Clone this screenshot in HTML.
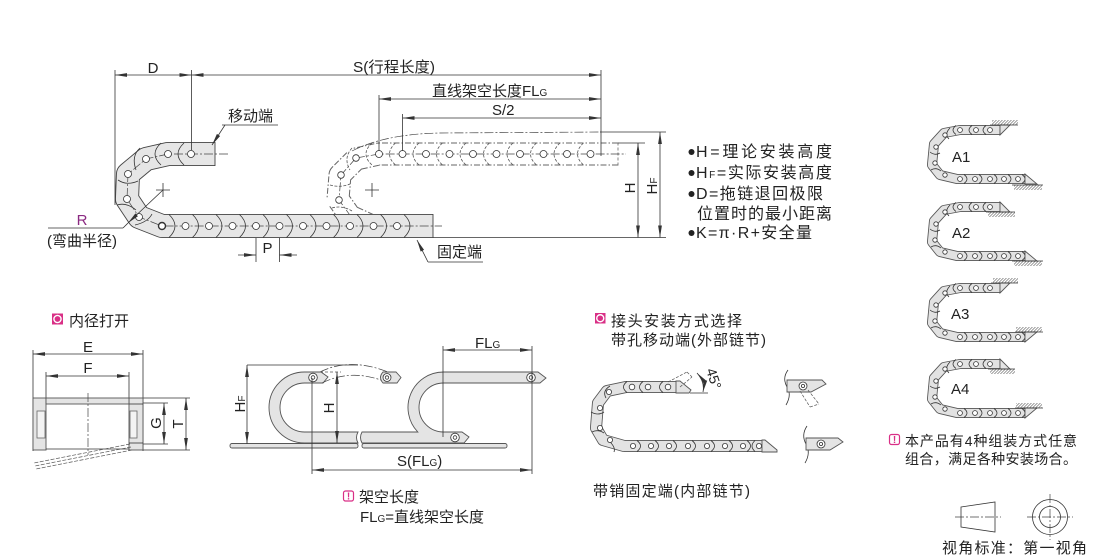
<!DOCTYPE html>
<html><head><meta charset="utf-8"><style>
html,body{margin:0;padding:0;background:#fff}
svg{display:block}
text{font-family:"Liberation Sans","Noto Sans CJK SC",sans-serif;fill:#222;font-size:15px}
.l{stroke:#333;stroke-width:.8;fill:none}
.cd{stroke:#444;stroke-width:.7;fill:none;stroke-dasharray:9 2 2 2}
.pin{fill:#fff;stroke:#333;stroke-width:.8}
.ar{stroke:#333;stroke-width:.8;fill:none;marker-end:url(#ar)}
.ar2{stroke:#333;stroke-width:.8;fill:none;marker-end:url(#ar);marker-start:url(#ar)}
.gl{fill:#e4e4e4;stroke:#555;stroke-width:.9}
</style></head><body>
<svg width="1110" height="559" viewBox="0 0 1110 559" xmlns="http://www.w3.org/2000/svg">
<defs>
<marker id="ar" viewBox="0 0 12 5" refX="12" refY="2.5" markerWidth="12" markerHeight="5" markerUnits="userSpaceOnUse" orient="auto-start-reverse"><path d="M0,0.6 L12,2.5 L0,4.4 Z" fill="#333"/></marker>
<pattern id="ht" width="3" height="10" patternUnits="userSpaceOnUse" patternTransform="skewX(-45)"><rect width="0.8" height="10" fill="#555"/></pattern>
<g id="cc">
<path d="M1000,130 L960,130 L944,133 L934,144 L932,165 L940,175 L957,179 L1025,179" fill="none" stroke="#555" stroke-width="10" stroke-linejoin="round"/>
<path d="M1000,130 L960,130 L944,133 L934,144 L932,165 L940,175 L957,179 L1025,179" fill="none" stroke="#e2e2e2" stroke-width="8.3" stroke-linejoin="round"/>
<line x1="1000" y1="125" x2="1000" y2="135" class="l"/>
<line x1="1025" y1="174" x2="1025" y2="184" class="l"/>
<g class="l">
<path d="M956,125.5 Q950,130 956,134.5"/><path d="M972,125.5 Q966,130 972,134.5"/><path d="M986,125.5 Q980,130 986,134.5"/>
<path d="M964,174.5 Q970,179 964,183.5"/><path d="M979,174.5 Q985,179 979,183.5"/><path d="M994,174.5 Q1000,179 994,183.5"/><path d="M1008,174.5 Q1014,179 1008,183.5"/><path d="M1022,174.5 Q1028,179 1022,183.5"/>
<path d="M950,128 Q944,134 949,139"/><path d="M930,152 Q935,156 940,153"/><path d="M931,170 Q936,167 941,171"/>
</g>
<g class="pin">
<circle cx="960" cy="130" r="2.4"/><circle cx="976" cy="130" r="2.4"/><circle cx="990" cy="130" r="2.4"/>
<circle cx="960" cy="179" r="2.4"/><circle cx="975" cy="179" r="2.4"/><circle cx="990" cy="179" r="2.4"/><circle cx="1004" cy="179" r="2.4"/><circle cx="1018" cy="179" r="2.4"/>
<circle cx="945" cy="135" r="2.2"/><circle cx="936" cy="147" r="2.2"/><circle cx="935" cy="163" r="2.2"/><circle cx="945" cy="175" r="2.2"/>
</g>
</g>
</defs>
<rect width="1110" height="559" fill="#fff"/>

<!-- ============ TOP MAIN DIAGRAM ============ -->
<!-- ghost chain -->
<path d="M618,154 L379,154 L356,159 L340,175 L338,199 L350,216 L372,226" fill="none" stroke="#666" stroke-width="23" stroke-dasharray="6 2 1.5 2" stroke-linejoin="round"/>
<path d="M618,154 L379,154 L356,159 L340,175 L338,199 L350,216 L372,226" fill="none" stroke="#fff" stroke-width="21" stroke-linejoin="round"/>
<line x1="618" y1="142.5" x2="618" y2="165.5" stroke="#666" stroke-width=".8" stroke-dasharray="3 2"/>
<g stroke="#555" stroke-width=".8" fill="none" stroke-dasharray="3 1.5">
<path d="M372,143 Q360,154 372,165"/><path d="M395.5,143 Q383.5,154 395.5,165"/><path d="M419,143 Q407,154 419,165"/><path d="M442.5,143 Q430.5,154 442.5,165"/><path d="M466,143 Q454,154 466,165"/><path d="M489.5,143 Q477.5,154 489.5,165"/><path d="M513,143 Q501,154 513,165"/><path d="M536.5,143 Q524.5,154 536.5,165"/><path d="M560,143 Q548,154 560,165"/><path d="M583.5,143 Q571.5,154 583.5,165"/>
<path d="M352,148 Q343,158 350,170"/><path d="M330,185 Q340,188 350,184"/><path d="M332,208 Q342,205 352,211"/>
</g>
<path class="cd" d="M356,158 L379,154 L626,154"/>
<path class="cd" d="M356,158 L341,175 L339,200 L352,218"/>
<g class="pin">
<circle cx="379" cy="154" r="3.5"/><circle cx="402.5" cy="154" r="3.5"/><circle cx="426" cy="154" r="3.5"/><circle cx="449.5" cy="154" r="3.5"/><circle cx="473" cy="154" r="3.5"/><circle cx="496.5" cy="154" r="3.5"/><circle cx="520" cy="154" r="3.5"/><circle cx="543.5" cy="154" r="3.5"/><circle cx="567" cy="154" r="3.5"/><circle cx="590.5" cy="154" r="3.5"/>
<circle cx="356" cy="158" r="3.3"/><circle cx="341" cy="175" r="3.3"/><circle cx="339" cy="200" r="3.3"/>
</g>
<!-- dash-dot sag arc -->
<path class="cd" d="M352,151 Q385,134 440,133 L601,132"/>
<!-- crosses -->
<path class="l" d="M156,190 H170 M163,183 V197 M365,190 H379 M372,183 V197"/>

<!-- main chain -->
<path d="M215,154 L168,154 L146,159 L128,174 L127,199 L139,217 L162,226 L433,226" fill="none" stroke="#444" stroke-width="24" stroke-linejoin="round"/>
<path d="M215,154 L168,154 L146,159 L128,174 L127,199 L139,217 L162,226 L433,226" fill="none" stroke="#e6e6e6" stroke-width="22.2" stroke-linejoin="round"/>
<line x1="215" y1="142" x2="215" y2="166" stroke="#444" stroke-width=".9"/>
<line x1="433" y1="214" x2="433" y2="238" stroke="#444" stroke-width=".9"/>
<g class="l">
<path d="M184,143 Q172,154 184,165"/><path d="M161,143 Q149,154 161,165"/>
<path d="M140,148 Q131,156 136,170"/><path d="M118,180 Q127,186 138,181"/><path d="M117,205 Q126,202 136,210"/><path d="M135,225 Q148,222 152,214"/>
<path d="M169,214.5 Q181,226 169,237.5"/><path d="M192.5,214.5 Q204.5,226 192.5,237.5"/><path d="M216,214.5 Q228,226 216,237.5"/><path d="M239.5,214.5 Q251.5,226 239.5,237.5"/><path d="M263,214.5 Q275,226 263,237.5"/><path d="M286.5,214.5 Q298.5,226 286.5,237.5"/><path d="M310,214.5 Q322,226 310,237.5"/><path d="M333.5,214.5 Q345.5,226 333.5,237.5"/><path d="M357,214.5 Q369,226 357,237.5"/><path d="M380.5,214.5 Q392.5,226 380.5,237.5"/><path d="M404,214.5 Q416,226 404,237.5"/>
</g>
<path class="cd" d="M228,154 L168,154 L146,159 L128,174 L127,199 L139,217 L162,226 L442,226"/>
<g class="pin">
<circle cx="191" cy="154" r="3.5"/><circle cx="168" cy="154" r="3.5"/><circle cx="146" cy="159" r="3.5"/><circle cx="128" cy="174" r="3.5"/><circle cx="127" cy="199" r="3.5"/><circle cx="139" cy="217" r="3.5"/>
<circle cx="162" cy="226" r="3.5" stroke-width="1.4"/><circle cx="185.5" cy="226" r="3.5"/><circle cx="209" cy="226" r="3.5"/><circle cx="232.5" cy="226" r="3.5"/><circle cx="256" cy="226" r="3.5"/><circle cx="279.5" cy="226" r="3.5"/><circle cx="303" cy="226" r="3.5"/><circle cx="326.5" cy="226" r="3.5"/><circle cx="350" cy="226" r="3.5"/><circle cx="373.5" cy="226" r="3.5"/><circle cx="397" cy="226" r="3.5"/>
</g>

<!-- dimensions top -->
<g class="l">
<line x1="115" y1="70" x2="115" y2="205"/>
<line x1="191.5" y1="70" x2="191.5" y2="150"/>
<line x1="601" y1="70" x2="601" y2="156"/>
<line x1="379" y1="95" x2="379" y2="151"/>
<line x1="402.5" y1="114" x2="402.5" y2="151"/>
<line x1="618" y1="143" x2="645" y2="143"/>
<line x1="600" y1="132" x2="666" y2="132"/>
<line x1="433" y1="237.5" x2="666" y2="237.5"/>
<line x1="256" y1="238" x2="256" y2="262"/>
<line x1="279.5" y1="238" x2="279.5" y2="262"/>
<line x1="48" y1="228" x2="123" y2="228"/>
<line x1="128" y1="223" x2="123" y2="228"/>
<line x1="222" y1="125" x2="278" y2="125"/>
<line x1="428" y1="262" x2="483" y2="262"/>
</g>
<line class="ar2" x1="115" y1="75" x2="191.5" y2="75"/>
<line class="ar2" x1="191.5" y1="75" x2="601" y2="75"/>
<line class="ar2" x1="379" y1="99" x2="601" y2="99"/>
<line class="ar2" x1="402.5" y1="118" x2="601" y2="118"/>
<line class="ar2" x1="638" y1="143" x2="638" y2="237.5"/>
<line class="ar2" x1="660" y1="132" x2="660" y2="237.5"/>
<line class="ar" x1="238" y1="255" x2="256" y2="255"/>
<line class="ar" x1="297" y1="255" x2="279.5" y2="255"/>
<line class="ar" x1="163" y1="190" x2="128" y2="223"/>
<line class="ar" x1="225" y1="125" x2="212" y2="145"/>
<line class="ar" x1="428" y1="262" x2="417" y2="240"/>

<text x="153" y="73" text-anchor="middle">D</text>
<text x="353" y="72" textLength="82" lengthAdjust="spacingAndGlyphs">S(行程长度)</text>
<text x="432" y="96">直线架空长度FL<tspan font-size="10">G</tspan></text>
<text x="492" y="115">S/2</text>
<text x="228" y="121">移动端</text>
<text x="437" y="257">固定端</text>
<text x="82" y="225" text-anchor="middle" style="fill:#8b2a82">R</text>
<text x="47" y="246">(弯曲半径)</text>
<text x="267.5" y="253" text-anchor="middle">P</text>
<text transform="translate(635,188) rotate(-90)" text-anchor="middle">H</text>
<text transform="translate(657,186) rotate(-90)" text-anchor="middle">H<tspan font-size="10">F</tspan></text>

<!-- right description -->
<g fill="#222"><circle cx="691.5" cy="152" r="3"/><circle cx="691.5" cy="173" r="3"/><circle cx="691.5" cy="194" r="3"/><circle cx="691.5" cy="233" r="3"/></g>
<text x="696" y="157" font-size="16" style="font-size:16px" textLength="136" lengthAdjust="spacing">H=理论安装高度</text>
<text x="696" y="178" style="font-size:16px;letter-spacing:1.6px">H<tspan style="font-size:10px">F</tspan>=实际安装高度</text>
<text x="696" y="199" style="font-size:16px" textLength="127" lengthAdjust="spacing">D=拖链退回极限</text>
<text x="697" y="219" style="font-size:16px" textLength="135" lengthAdjust="spacing">位置时的最小距离</text>
<text x="696" y="238" style="font-size:16px" textLength="116" lengthAdjust="spacing">K=π·R+安全量</text>

<!-- ============ A1-A4 ============ -->
<use href="#cc"/>
<use href="#cc" transform="translate(0,77)"/>
<use href="#cc" transform="translate(0,158)"/>
<use href="#cc" transform="translate(0,234)"/>
<g class="gl">
<polygon points="1000,125 1010,125 1000,135"/><polygon points="1025,174 1037,184 1025,184"/>
<polygon points="1000,212 1010,212 1000,202"/><polygon points="1025,251 1037,261 1025,261"/>
<polygon points="1000,283 1010,283 1000,293"/><polygon points="1025,342 1037,332 1025,332"/>
<polygon points="1000,369 1010,369 1000,359"/><polygon points="1025,418 1037,408 1025,408"/>
</g>
<!-- grounds -->
<g>
<rect x="992" y="120" width="26" height="5" fill="url(#ht)"/><line x1="990" y1="125" x2="1018" y2="125" class="l"/>
<rect x="1014" y="185" width="28" height="5" fill="url(#ht)"/><line x1="1012" y1="185" x2="1043" y2="185" class="l"/>
<rect x="988" y="212" width="27" height="5" fill="url(#ht)"/><line x1="986" y1="212" x2="1015" y2="212" class="l"/>
<rect x="1014" y="261" width="28" height="5" fill="url(#ht)"/><line x1="1012" y1="261" x2="1043" y2="261" class="l"/>
<rect x="993" y="278" width="25" height="5" fill="url(#ht)"/><line x1="991" y1="283" x2="1018" y2="283" class="l"/>
<rect x="1016" y="327" width="26" height="5" fill="url(#ht)"/><line x1="1015" y1="332" x2="1043" y2="332" class="l"/>
<rect x="990" y="369" width="25" height="5" fill="url(#ht)"/><line x1="988" y1="369" x2="1015" y2="369" class="l"/>
<rect x="1016" y="403" width="26" height="5" fill="url(#ht)"/><line x1="1015" y1="408" x2="1043" y2="408" class="l"/>
</g>
<text x="952" y="162">A1</text>
<text x="952" y="238">A2</text>
<text x="951" y="319">A3</text>
<text x="951" y="394">A4</text>

<!-- note right -->
<rect x="889.5" y="434.5" width="10" height="10" rx="2" fill="#fff" stroke="#d92f86" stroke-width="1.2"/>
<text x="894.5" y="443" text-anchor="middle" style="font-size:10px;font-weight:bold;fill:#d92f86">!</text>
<text x="905" y="446" style="font-size:14px" textLength="172" lengthAdjust="spacing">本产品有4种组装方式任意</text>
<text x="905" y="464" style="font-size:14px" textLength="172" lengthAdjust="spacing">组合，满足各种安装场合。</text>

<!-- projection symbol -->
<path class="l" d="M961,507 L995,502 L995,532 L961,527 Z"/>
<line class="cd" x1="955" y1="517" x2="1001" y2="517"/>
<circle cx="1050" cy="517" r="17.5" class="l"/>
<circle cx="1050" cy="517" r="10.5" class="l"/>
<line class="cd" x1="1027" y1="517" x2="1073" y2="517"/>
<line class="cd" x1="1050" y1="494" x2="1050" y2="540"/>
<text x="942" y="553" textLength="145" lengthAdjust="spacing">视角标准：第一视角</text>

<!-- ============ BOTTOM LEFT cross-section ============ -->
<rect x="52" y="313.5" width="11" height="11" fill="#d92f86"/>
<circle cx="57.5" cy="319" r="3.6" fill="none" stroke="#fff" stroke-width="1.4"/>
<text x="69" y="326">内径打开</text>
<g class="l">
<line x1="33" y1="350" x2="33" y2="451"/>
<line x1="143" y1="350" x2="143" y2="451"/>
<line x1="46" y1="372" x2="46" y2="398"/>
<line x1="129" y1="372" x2="129" y2="398"/>
<line x1="143" y1="398" x2="190" y2="398"/>
<line x1="143" y1="450" x2="190" y2="450"/>
<line x1="143" y1="403" x2="168" y2="403"/>
<line x1="140" y1="444" x2="168" y2="444"/>
</g>
<line class="ar2" x1="33" y1="354" x2="143" y2="354"/>
<line class="ar2" x1="46" y1="376" x2="129" y2="376"/>
<line class="ar2" x1="164" y1="403" x2="164" y2="444"/>
<line class="ar2" x1="186" y1="398" x2="186" y2="450"/>
<rect x="33" y="398" width="13" height="52" class="gl"/>
<rect x="37" y="411" width="8" height="27" fill="#f3f3f3" stroke="#666" stroke-width=".8"/>
<rect x="129" y="398" width="14" height="52" class="gl"/>
<line x1="129" y1="404" x2="143" y2="404" class="l"/>
<line x1="129" y1="443" x2="143" y2="443" class="l"/>
<rect x="130" y="411" width="7" height="27" fill="#f3f3f3" stroke="#666" stroke-width=".8"/>
<rect x="46" y="398" width="83" height="6" class="gl"/>
<line x1="46" y1="449" x2="129" y2="449" class="l"/>
<g stroke="#555" stroke-width=".7" stroke-dasharray="4 1.5">
<line x1="130" y1="444" x2="34" y2="463"/><line x1="131" y1="447" x2="35" y2="466"/><line x1="132" y1="450" x2="36" y2="469"/>
</g>
<line class="cd" x1="88" y1="393" x2="88" y2="455"/>
<text x="88" y="352" text-anchor="middle">E</text>
<text x="88" y="373" text-anchor="middle">F</text>
<text transform="translate(161,423) rotate(-90)" text-anchor="middle">G</text>
<text transform="translate(183,424) rotate(-90)" text-anchor="middle">T</text>

<!-- ============ BOTTOM MIDDLE U chains ============ -->
<rect x="230" y="443.5" width="128" height="4.5" rx="2" class="gl"/>
<rect x="362" y="443.5" width="145" height="4.5" rx="2" class="gl"/>
<path class="gl" d="M304.5,372 L321,372 L328,377 L323,383 L304.5,383 A24.5,24.5 0 0 0 304.5,432 L358,432 Q355,437.5 358,443 L304.5,443 A35.5,35.5 0 0 1 304.5,372 Z"/>
<path class="gl" d="M362,432 L417.8,432 A35.5,35.5 0 0 1 443.5,372 L538,372 L546,378 L540,383 L443.5,383 A24.5,24.5 0 0 0 443.5,432 L462,432 L469,437 L464,443 L362,443 Q359,437.5 362,432 Z"/>
<circle cx="313" cy="377.5" r="4.3" class="pin"/><circle cx="313" cy="377.5" r="1.8" class="pin"/>
<circle cx="531" cy="377.5" r="4.3" class="pin"/><circle cx="531" cy="377.5" r="1.8" class="pin"/>
<circle cx="455" cy="437.5" r="4.3" class="pin"/><circle cx="455" cy="437.5" r="1.8" class="pin"/>
<!-- ghost -->
<path class="cd" d="M320,372 Q350,357 388,372"/>
<path class="cd" d="M322,383 Q352,368 386,382"/>
<path d="M383,372 L396,372 L401,377.5 L397,383 L383,383 Q378,377.5 383,372 Z" class="gl"/>
<circle cx="387" cy="377.5" r="4" class="pin"/><circle cx="387" cy="377.5" r="1.7" class="pin"/>
<g class="l">
<line x1="247" y1="365" x2="358" y2="365"/>
<line x1="312" y1="378" x2="312" y2="474"/>
<line x1="443" y1="346" x2="443" y2="437"/>
<line x1="532" y1="346" x2="532" y2="474"/>
</g>
<line x1="320" y1="372" x2="341" y2="372" stroke="#555" stroke-width=".7" stroke-dasharray="3 2"/>
<line class="ar2" x1="247" y1="365" x2="247" y2="444"/>
<line class="ar2" x1="337" y1="372" x2="337" y2="443"/>
<line class="ar2" x1="443" y1="350" x2="532" y2="350"/>
<line class="ar2" x1="312" y1="470" x2="532" y2="470"/>
<text x="475" y="348">FL<tspan style="font-size:10px">G</tspan></text>
<text x="397" y="466">S(FL<tspan style="font-size:10px">G</tspan>)</text>
<text transform="translate(245,404) rotate(-90)" text-anchor="middle">H<tspan style="font-size:10px">F</tspan></text>
<text transform="translate(334,408) rotate(-90)" text-anchor="middle">H</text>
<rect x="343.5" y="491" width="10" height="10" rx="2" fill="#fff" stroke="#d92f86" stroke-width="1.2"/>
<text x="348.5" y="499.5" text-anchor="middle" style="font-size:10px;font-weight:bold;fill:#d92f86">!</text>
<text x="359" y="502">架空长度</text>
<text x="360" y="522">FL<tspan style="font-size:10px">G</tspan>=直线架空长度</text>

<!-- ============ BOTTOM MIDDLE-RIGHT ============ -->
<rect x="595" y="313" width="10.5" height="10.5" fill="#d92f86"/>
<circle cx="600.25" cy="318.25" r="3.5" fill="none" stroke="#fff" stroke-width="1.4"/>
<text x="611" y="326" textLength="131" lengthAdjust="spacing">接头安装方式选择</text>
<text x="611" y="345" textLength="155" lengthAdjust="spacing">带孔移动端(外部链节)</text>
<path d="M676,387 L626,387 L607,391 L598,403 L596,428 L603,440 L624,446 L762,446" fill="none" stroke="#555" stroke-width="12" stroke-linejoin="round"/>
<path d="M676,387 L626,387 L607,391 L598,403 L596,428 L603,440 L624,446 L762,446" fill="none" stroke="#e3e3e3" stroke-width="10.3" stroke-linejoin="round"/>
<polygon class="gl" points="676,381 680,381 691,390 689,393 676,393"/>
<polygon class="gl" points="762,440 765,440 777,450 777,452 762,452"/>
<g class="l">
<path d="M627,381.5 Q620,387 627,392.5"/><path d="M643,381.5 Q636,387 643,392.5"/><path d="M663,381.5 Q656,387 663,392.5"/>
<path d="M610,386 Q602,391 606,398"/><path d="M591,412 Q598,416 604,412"/><path d="M592,432 Q598,429 604,433"/><path d="M608,440 Q616,447 614,452"/>
<path d="M637,440.5 Q644,446 637,451.5"/><path d="M655,440.5 Q662,446 655,451.5"/><path d="M673,440.5 Q680,446 673,451.5"/><path d="M692,440.5 Q699,446 692,451.5"/><path d="M711,440.5 Q718,446 711,451.5"/><path d="M729,440.5 Q736,446 729,451.5"/><path d="M747,440.5 Q754,446 747,451.5"/><path d="M755,440.5 Q749,446 755,451.5"/>
</g>
<g class="pin">
<circle cx="632" cy="387" r="2.8"/><circle cx="648" cy="387" r="2.8"/><circle cx="668" cy="387" r="2.8"/>
<circle cx="609" cy="392" r="2.6"/><circle cx="600" cy="408" r="2.6"/><circle cx="600" cy="428" r="2.6"/><circle cx="610" cy="440" r="2.6"/>
<circle cx="633" cy="446" r="2.6"/><circle cx="651" cy="446" r="2.6"/><circle cx="669" cy="446" r="2.6"/><circle cx="688" cy="446" r="2.6"/><circle cx="707" cy="446" r="2.6"/><circle cx="725" cy="446" r="2.6"/><circle cx="743" cy="446" r="2.6"/><circle cx="759" cy="446" r="2.6"/>
</g>
<!-- 45 deg -->
<g stroke="#555" stroke-width=".7" fill="none" stroke-dasharray="3 1.5">
<line x1="668" y1="382" x2="687" y2="372"/><line x1="680" y1="387" x2="692" y2="377"/><line x1="687" y1="372" x2="692" y2="377"/>
</g>
<line x1="690" y1="393" x2="708" y2="393" class="l"/>
<path class="ar2" d="M697,373 Q705,382 703,392"/>
<text transform="translate(706,370) rotate(72)" style="font-size:14px">45°</text>
<!-- side details -->
<path class="l" d="M788,370 Q782,378 787,387 Q792,395 786,405"/>
<polygon class="gl" points="787,380 822,380 826,384 811,392 787,392"/>
<circle cx="803" cy="386" r="4" class="pin"/><circle cx="803" cy="386" r="1.6" class="pin"/>
<g stroke="#555" stroke-width=".7" fill="none" stroke-dasharray="3 1.5"><line x1="800" y1="391" x2="810" y2="407"/><line x1="808" y1="390" x2="819" y2="404"/><line x1="810" y1="407" x2="819" y2="404"/></g>
<path class="l" d="M807,426 Q801,435 806,444 Q811,453 805,463"/>
<polygon class="gl" points="806,438 838,438 843,442 830,450 806,450"/>
<circle cx="821" cy="444" r="4" class="pin"/><circle cx="821" cy="444" r="1.6" class="pin"/>
<text x="593" y="496" textLength="157" lengthAdjust="spacing">带销固定端(内部链节)</text>
</svg>
</body></html>
